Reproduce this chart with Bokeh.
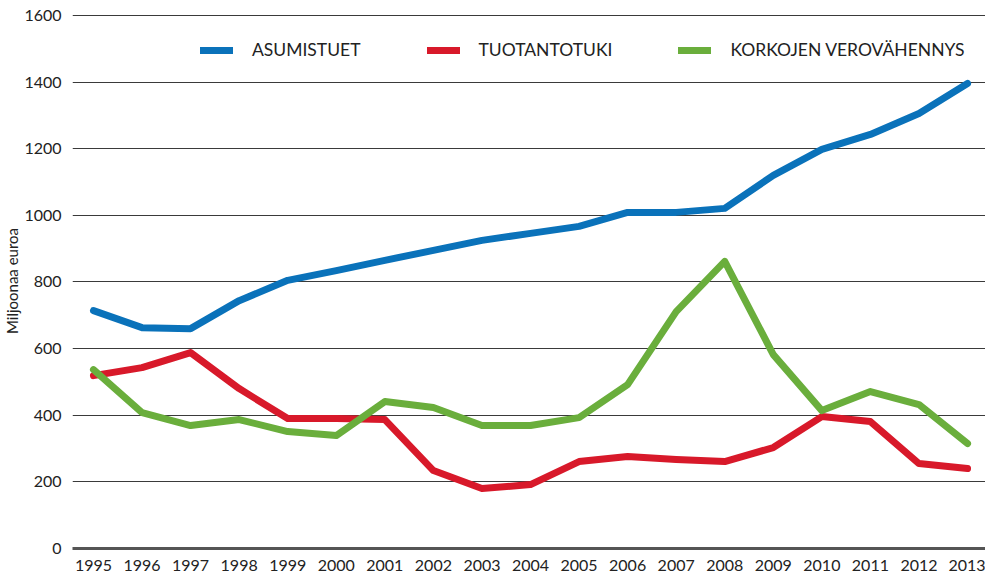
from bokeh.plotting import figure
from bokeh.models import Range1d, Legend, LegendItem, FixedTicker
from bokeh.embed import file_html
from bokeh.resources import INLINE

years = list(range(1995, 2014))
asumistuet = [714, 663, 660, 744, 805, 834, 865, 895, 925, 946, 967, 1009, 1009, 1021, 1120, 1198, 1243, 1306, 1396]
tuotantotuki = [519, 543, 588, 480, 390, 390, 387, 234, 180, 192, 261, 276, 267, 261, 303, 396, 381, 255, 240]
korkojen = [537, 408, 369, 387, 351, 339, 441, 423, 369, 369, 393, 492, 711, 862, 582, 414, 471, 432, 315]
y_ticks = [0, 200, 400, 600, 800, 1000, 1200, 1400, 1600]
labels = ["ASUMISTUET", "TUOTANTOTUKI", "KORKOJEN VEROVÄHENNYS"]
colors = ["#0a72ba", "#d8192a", "#6aae3c"]

FONT = "Lato"

p = figure(width=985, height=573, output_backend="svg", toolbar_location=None,
           x_range=Range1d(1994.568, 2013.37), y_range=Range1d(0, 1606),
           min_border_left=72, min_border_right=0, min_border_top=13, min_border_bottom=25)
p.outline_line_color = None
p.background_fill_color = "white"

p.xgrid.grid_line_color = None
p.ygrid.grid_line_color = "#3a3a3a"
p.ygrid.grid_line_width = 1
p.yaxis.ticker = FixedTicker(ticks=y_ticks)
p.xaxis.ticker = FixedTicker(ticks=years)

for ax in (p.xaxis, p.yaxis):
    ax.major_tick_line_color = None
    ax.minor_tick_line_color = None
    ax.major_label_text_font = FONT
    ax.major_label_text_font_size = "16px"
    ax.major_label_text_color = "#222222"
p.yaxis.axis_line_color = None
p.xaxis.axis_line_color = "#555555"
p.xaxis.axis_line_width = 3
p.xaxis.major_label_standoff = 5
p.yaxis.major_label_standoff = 5
p.yaxis.axis_label = "Miljoonaa euroa"
p.yaxis.axis_label_text_font = FONT
p.yaxis.axis_label_text_font_style = "normal"
p.yaxis.axis_label_text_font_size = "15px"
p.yaxis.axis_label_text_color = "#222222"
p.yaxis.axis_label_standoff = 0

renderers = []
for series, c in zip([asumistuet, tuotantotuki, korkojen], colors):
    r = p.line(years, series, line_color=c, line_width=7, line_cap="round", line_join="round")
    renderers.append(r)

legend = Legend(items=[LegendItem(label=l, renderers=[r]) for l, r in zip(labels, renderers)],
                orientation="horizontal")
legend.label_text_font = FONT
legend.label_text_font_size = "17.5px"
legend.label_text_color = "#222222"
legend.glyph_width = 33
legend.label_standoff = 19
legend.spacing = 66
legend.border_line_color = None
legend.background_fill_alpha = 0
legend.padding = 0
legend.margin = 0
p.add_layout(legend, "center")
legend.location = (128, 488)

open("out.html", "w").write(file_html(p, INLINE))
